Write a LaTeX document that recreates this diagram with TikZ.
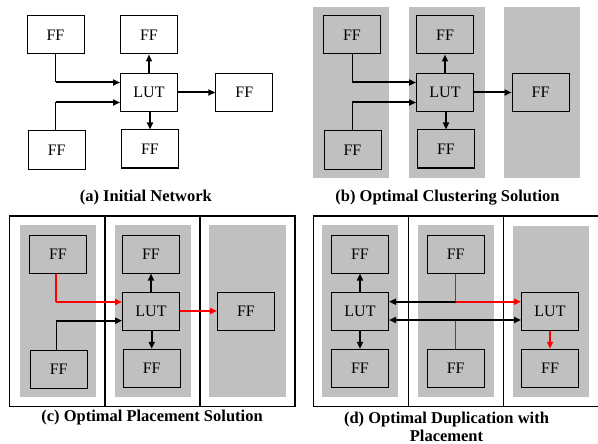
\documentclass[tikz,border=0pt]{standalone}
\usepackage{fontspec}
\setmainfont{Liberation Serif}
\usepackage{tikz}
\usetikzlibrary{arrows.meta}

\definecolor{colgray}{RGB}{192,192,192}

\tikzset{
  ff/.style={draw=black, line width=1pt, minimum width=57pt, minimum height=38pt,
    inner sep=0pt, font=\fontsize{16}{18}\selectfont},
  sig/.style={line width=2pt, -{Triangle[length=7pt,width=6pt]}},
  wire/.style={line width=1pt},
  hot/.style={sig, red},
  hotwire/.style={line width=1.5pt, red},
  column/.style={fill=colgray},
  frame/.style={line width=1.3pt},
  caption/.style={font=\fontsize{16.5}{18}\selectfont\bfseries, align=center}
}

\begin{document}
\begin{tikzpicture}[x=1pt, y=-1pt]
  \useasboundingbox (0,0) rectangle (598,444);

  % (a) 初始网络
  \node[ff] (a1) at (55.5,35) {FF};
  \node[ff] (a2) at (149,35) {FF};
  \node[ff] (aL) at (149,92.5) {LUT};
  \node[ff] (a3) at (244.3,92.5) {FF};
  \node[ff] (a4) at (56.7,150) {FF};
  \node[ff] (a5) at (150,149) {FF};
  \coordinate (aIn1) at ([yshift=10pt]aL.west);
  \coordinate (aIn2) at ([yshift=-10pt]aL.west);
  \draw[wire] (a1.south) -- (a1.south |- aIn1);
  \draw[sig] (a1.south |- aIn1) -- (aIn1);
  \draw[wire] (a4.north -| a1.south) -- (a1.south |- aIn2);
  \draw[sig] (a1.south |- aIn2) -- (aIn2);
  \draw[sig] (aL) -- (a2);
  \draw[sig] (aL.south -| a5) -- (a5);
  \draw[sig] (aL) -- (a3);
  \node[caption] (capA) at (145.8,198) {(a) Initial Network};

  % (b) 聚类结果
  \fill[column] (312.7,6.7) rectangle (389,178.3);
  \fill[column] (409,6.7) rectangle (485,178.3);
  \fill[column] (504,6.7) rectangle (580,178.3);
  \node[ff] (b1) at (352,35) {FF};
  \node[ff] (b2) at (445,35) {FF};
  \node[ff] (bL) at (445,92.5) {LUT};
  \node[ff] (b3) at (540.5,92.5) {FF};
  \node[ff] (b4) at (352.5,150) {FF};
  \node[ff] (b5) at (446,149) {FF};
  \coordinate (bIn1) at ([yshift=10pt]bL.west);
  \coordinate (bIn2) at ([yshift=-10pt]bL.west);
  \draw[wire] (b1.south) -- (b1.south |- bIn1);
  \draw[sig] (b1.south |- bIn1) -- (bIn1);
  \draw[wire] (b4.north -| b1.south) -- (b1.south |- bIn2);
  \draw[sig] (b1.south |- bIn2) -- (bIn2);
  \draw[sig] (bL) -- (b2);
  \draw[sig] (bL.south -| b5) -- (b5);
  \draw[sig] (bL) -- (b3);
  \node[caption] (capB) at (447.5,198) {(b) Optimal Clustering Solution};

  % (c) 布局结果
  \draw[frame] (9.3,216) rectangle (295,406.7);
  \draw[frame] (105,216) -- (105,406.7);
  \draw[frame] (200,216) -- (200,406.7);
  \fill[column] (20,225) rectangle (96,396.7);
  \fill[column] (115,225) rectangle (190.7,396.7);
  \fill[column] (209,225) rectangle (286,396.7);
  \node[ff] (c1) at (58,254) {FF};
  \node[ff] (c2) at (151,254) {FF};
  \node[ff] (cL) at (151,311) {LUT};
  \node[ff] (c3) at (246,311) {FF};
  \node[ff] (c4) at (58.7,369) {FF};
  \node[ff] (c5) at (151.7,368.3) {FF};
  \coordinate (cIn1) at ([yshift=9pt]cL.west);
  \coordinate (cIn2) at ([yshift=-9.7pt]cL.west);
  \draw[hotwire] (c1.south -| 56,0) -- (56,0 |- cIn1);
  \draw[hot] (56,0 |- cIn1) -- (cIn1);
  \draw[wire] (c4.north -| 56,0) -- (56,0 |- cIn2);
  \draw[sig] (56,0 |- cIn2) -- (cIn2);
  \draw[sig] (cL) -- (c2);
  \draw[sig] (cL.south -| c5) -- (c5);
  \draw[hot] (cL) -- (c3);
  \node[caption] (capC) at (152,418) {(c) Optimal Placement Solution};

  % (d) 复制加布局
  \draw[frame] (598,216) -- (313.3,216) -- (313.3,406.7) -- (598,406.7);
  \draw[frame] (408.3,216) -- (408.3,406.7);
  \draw[frame] (503.3,216) -- (503.3,406.7);
  \fill[column] (321.7,225) rectangle (397.7,396.7);
  \fill[column] (417.7,225) rectangle (494,396.7);
  \fill[column] (512.7,226) rectangle (588.7,396.7);
  \node[ff] (d1) at (360,254) {FF};
  \node[ff] (dL) at (360,311) {LUT};
  \node[ff] (d4) at (360,368.3) {FF};
  \node[ff] (d2) at (455.7,254) {FF};
  \node[ff] (d5) at (455.7,368.3) {FF};
  \node[ff] (dR) at (550,311) {LUT};
  \node[ff] (d6) at (550,368.3) {FF};
  \coordinate (dTop) at ([yshift=9.3pt]dL.east);
  \coordinate (dBot) at ([yshift=-9pt]dL.east);
  \draw[sig] (dTop -| d2) -- (dTop);
  \draw[hotwire] (d2.south) -- (dTop -| d2);
  \draw[hot] (dTop -| d2) -- (dTop -| dR.west);
  \draw[wire, black!70] (d5.north) -- (dBot -| d5);
  \draw[line width=2pt, {Triangle[length=7pt,width=6pt]}-{Triangle[length=7pt,width=6pt]}]
    (dBot) -- (dBot -| dR.west);
  \draw[sig] (dL) -- (d1);
  \draw[sig] (dL) -- (d4);
  \draw[hot] (dR) -- (d6);
  \node[caption] (capD) at (446.5,427) {(d) Optimal Duplication with\\Placement};
\end{tikzpicture}
\end{document}
